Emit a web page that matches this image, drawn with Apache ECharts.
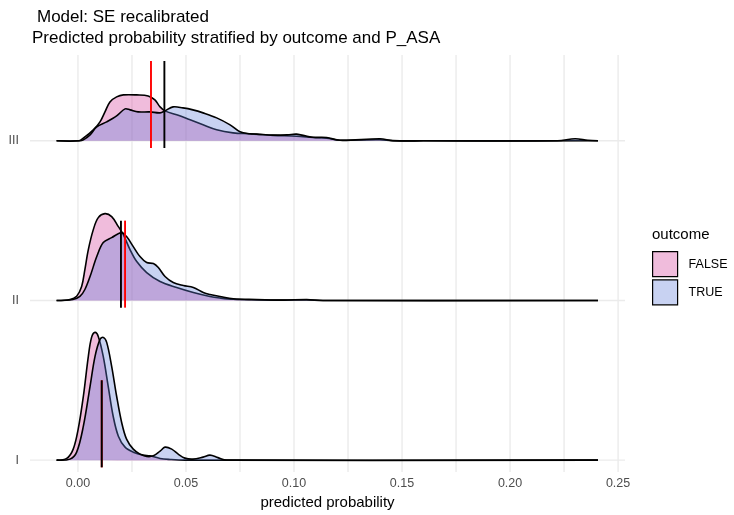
<!DOCTYPE html>
<html><head><meta charset="utf-8">
<script src="https://cdn.jsdelivr.net/npm/echarts@6/dist/echarts.min.js"></script>
<style>html,body{margin:0;padding:0;background:#fff}#c{width:734px;height:515px}</style>
</head><body><div id="c"></div><script>
// ---------- data ----------
const groups = ['I', 'II', 'III'];
const outcomes = ['FALSE', 'TRUE'];
const xTicks = [0, 0.05, 0.10, 0.15, 0.20, 0.25];
const xGrid = [0, 0.025, 0.05, 0.075, 0.10, 0.125, 0.15, 0.175, 0.20, 0.225, 0.25];

// density curves: [predicted probability, density height]
const densI_FALSE = [[-0.0099,0],[-0.0052,1.7],[-0.0022,11],[0.0001,31],[0.0025,64],[0.0048,104],[0.0063,123],[0.0079,128],[0.0094,124],[0.0117,104],[0.0140,74],[0.0163,44],[0.0187,24],[0.0218,13],[0.0256,8],[0.0302,5],[0.0333,4.3],[0.0380,1.7],[0.0426,0.7],[0.0495,0],[0.2407,0]];
const densI_TRUE = [[-0.0099,0],[-0.0037,1],[-0.0006,8],[0.0025,34],[0.0056,74],[0.0079,104],[0.0102,121],[0.0117,123],[0.0133,118],[0.0156,94],[0.0179,64],[0.0202,38],[0.0225,21],[0.0256,11],[0.0287,6],[0.0318,3.7],[0.0349,4.3],[0.0380,9],[0.0403,13],[0.0434,11],[0.0464,6],[0.0495,2],[0.0532,1],[0.0579,3],[0.0611,5],[0.0648,2.5],[0.0688,0],[0.2407,0]];
const densII_FALSE = [[-0.0099,0],[-0.0037,1],[-0.0006,4.3],[0.0017,14],[0.0032,31],[0.0048,51],[0.0071,71],[0.0094,83],[0.0125,87],[0.0156,84],[0.0187,74],[0.0210,66],[0.0241,51],[0.0272,39],[0.0318,28],[0.0380,19],[0.0457,13],[0.0534,8],[0.0611,4],[0.0657,2.5],[0.0718,1.2],[0.0827,0.6],[0.0949,0.3],[0.1059,0.5],[0.1134,0],[0.2407,0]];
const densII_TRUE = [[-0.0099,0],[-0.0023,1],[0.0009,4],[0.0032,11],[0.0056,24],[0.0087,44],[0.0117,58],[0.0156,63],[0.0202,68],[0.0225,64],[0.0256,54],[0.0287,44],[0.0318,38],[0.0349,37],[0.0372,33],[0.0403,24],[0.0441,18],[0.0488,15],[0.0534,13],[0.0580,8],[0.0611,6],[0.0657,4],[0.0719,1.7],[0.0827,1],[0.0949,0.3],[0.1059,1],[0.1134,0],[0.2407,0]];
const densIII_FALSE = [[-0.0099,0],[0.0005,0],[0.0025,2.7],[0.0071,11],[0.0102,19],[0.0125,29],[0.0148,39],[0.0179,44],[0.0210,46],[0.0272,46],[0.0325,45],[0.0356,41],[0.0380,34],[0.0403,30],[0.0457,26],[0.0519,21],[0.0579,16],[0.0642,11],[0.0718,8],[0.0796,7],[0.0903,5.5],[0.1012,4.5],[0.1088,3.3],[0.1151,2.5],[0.1213,0.6],[0.1300,0.8],[0.1398,1],[0.1458,0.1],[0.1600,0],[0.2407,0]];
const densIII_TRUE = [[-0.0099,0],[0.0009,0],[0.0025,1],[0.0056,6],[0.0087,14],[0.0133,19],[0.0179,25],[0.0218,32],[0.0241,31],[0.0278,29],[0.0333,29],[0.0380,28],[0.0403,30],[0.0440,34],[0.0486,33],[0.0532,31],[0.0579,28],[0.0642,23],[0.0704,16],[0.0750,9],[0.0796,7],[0.0827,6.7],[0.0903,5.7],[0.0970,6],[0.1012,6.7],[0.1060,4.5],[0.1088,3.5],[0.1151,3.3],[0.1213,0.5],[0.1398,2],[0.1458,0.2],[0.1600,0],[0.2220,0],[0.2301,2],[0.2360,0.5],[0.2407,0]];

// quantile (median) lines per group I, II, III
const medianFALSE = [0.0110, 0.0218, 0.0338];
const medianTRUE  = [0.0110, 0.0199, 0.0400];

// ---------- layout / style ----------
const HEIGHT_SCALE = 1 / 160;      // density units -> ridge spacing units
const X_MIN = -0.0222, X_MAX = 0.2532;
const Y_MIN = 0.925, Y_MAX = 3.5375;
const FILL = { FALSE: 'rgba(212,64,155,0.35)', TRUE: 'rgba(98,126,218,0.35)' };
const QCOL = { FALSE: '#ff0000', TRUE: '#000000' };
const curves = {
  FALSE: [densI_FALSE, densII_FALSE, densIII_FALSE],
  TRUE:  [densI_TRUE,  densII_TRUE,  densIII_TRUE]
};
const medians = { FALSE: medianFALSE, TRUE: medianTRUE };
const FONT = 'Liberation Sans, Arial, sans-serif';

function densitySeries(name) {
  return {
    type: 'custom', name, silent: true, clip: true,
    data: groups.map((g, i) => [i]),
    encode: { x: [], y: [] },
    renderItem: function (params, api) {
      const gi = params.dataIndex;
      const pts = curves[name][gi].map(p => api.coord([p[0], gi + 1 + p[1] * HEIGHT_SCALE]));
      return {
        type: 'group',
        children: [
          { type: 'polygon', shape: { points: pts, smooth: 0.35 }, style: { fill: FILL[name], stroke: null } },
          { type: 'polyline', shape: { points: pts, smooth: 0.35 }, style: { fill: null, stroke: '#000', lineWidth: 1.6 } }
        ]
      };
    }
  };
}

function medianSeries(name) {
  return {
    type: 'custom', name: 'median_' + name, silent: true,
    data: groups.map((g, i) => [i]),
    encode: { x: [], y: [] },
    renderItem: function (params, api) {
      const gi = params.dataIndex;
      const x = medians[name][gi];
      const a = api.coord([x, gi + 1 - 0.045]);
      const b = api.coord([x, gi + 1 + 0.5]);
      return { type: 'line', shape: { x1: a[0], y1: a[1], x2: b[0], y2: b[1] },
               style: { stroke: QCOL[name], lineWidth: 1.9 } };
    }
  };
}

const gridSeries = {
  type: 'custom', name: 'grid', silent: true,
  data: xGrid.map(v => [v]).concat(groups.map((g, i) => [null, i + 1])),
  encode: { x: [], y: [] },
  renderItem: function (params, api) {
    const i = params.dataIndex;
    if (i < xGrid.length) {
      const x = xGrid[i];
      const a = api.coord([x, Y_MIN]), b = api.coord([x, Y_MAX]);
      return { type: 'line', shape: { x1: a[0], y1: a[1], x2: b[0], y2: b[1] }, style: { stroke: '#ebebeb', lineWidth: 1.4 } };
    }
    const y = i - xGrid.length + 1;
    const a = api.coord([X_MIN, y]), b = api.coord([X_MAX, y]);
    return { type: 'line', shape: { x1: a[0], y1: a[1], x2: b[0], y2: b[1] }, style: { stroke: '#ebebeb', lineWidth: 1.4 } };
  }
};

const chart = echarts.init(document.getElementById('c'), null, { renderer: 'canvas' });
chart.setOption({
  animation: false,
  backgroundColor: '#fff',
  textStyle: { fontFamily: FONT },
  title: [
    { text: 'Model: SE recalibrated', left: 37, top: 9, padding: 0,
      textStyle: { fontFamily: FONT, fontSize: 17, fontWeight: 'normal', color: '#000' } },
    { text: 'Predicted probability stratified by outcome and P_ASA', left: 32, top: 30, padding: 0,
      textStyle: { fontFamily: FONT, fontSize: 17, fontWeight: 'normal', color: '#000' } },
    { text: 'outcome', left: 652, top: 227, padding: 0,
      textStyle: { fontFamily: FONT, fontSize: 15, fontWeight: 'normal', color: '#000' } }
  ],
  legend: {
    orient: 'vertical', left: 652, top: 251, padding: 0,
    itemWidth: 25, itemHeight: 25, itemGap: 2, selectedMode: false,
    textStyle: { fontFamily: FONT, fontSize: 12.5, color: '#000', padding: [0, 0, 0, 6] },
    data: outcomes.map(o => ({ name: o, icon: 'rect',
      itemStyle: { color: FILL[o], borderColor: '#000', borderWidth: 1.2 } }))
  },
  grid: { left: 30, right: 109, top: 55, bottom: 42, containLabel: false },
  xAxis: {
    type: 'value', min: X_MIN, max: X_MAX,
    axisLine: { show: false }, axisTick: { show: false }, splitLine: { show: false },
    axisLabel: { customValues: xTicks, formatter: v => v.toFixed(2), color: '#4d4d4d',
                 fontSize: 12.5, margin: 5, fontFamily: FONT },
    name: 'predicted probability', nameLocation: 'middle', nameGap: 22,
    nameTextStyle: { fontFamily: FONT, fontSize: 15, color: '#000' }
  },
  yAxis: {
    type: 'value', min: Y_MIN, max: Y_MAX,
    axisLine: { show: false }, axisTick: { show: false }, splitLine: { show: false },
    axisLabel: { customValues: [1, 2, 3], formatter: v => groups[Math.round(v) - 1] || '',
                 color: '#4d4d4d', fontSize: 12.5, margin: 11, fontFamily: FONT }
  },
  series: [gridSeries, densitySeries('FALSE'), densitySeries('TRUE'), medianSeries('FALSE'), medianSeries('TRUE')]
});
</script></body></html>
